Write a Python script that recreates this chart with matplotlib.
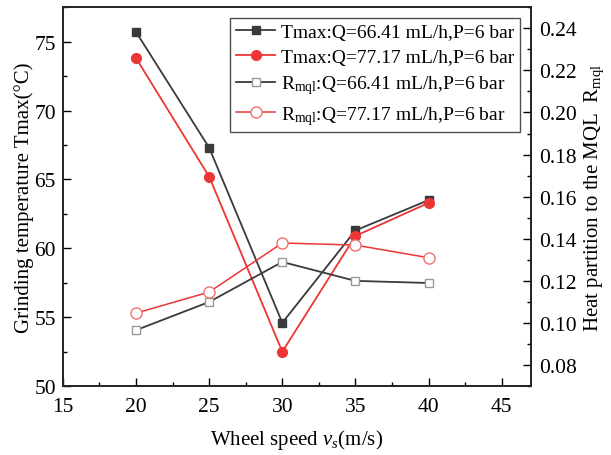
import matplotlib
matplotlib.use("Agg")
import matplotlib.pyplot as plt
from matplotlib.ticker import MultipleLocator

plt.rcParams["font.family"] = ["Liberation Serif", "DejaVu Serif"]
plt.rcParams["mathtext.fontset"] = "custom"
plt.rcParams["mathtext.rm"] = "Liberation Serif"
plt.rcParams["mathtext.it"] = "Liberation Serif:italic"

speed = [20, 25, 30, 35, 40]
tmax_q66 = [75.7, 67.3, 54.6, 61.3, 63.5]
tmax_q77 = [73.8, 65.2, 52.5, 60.9, 63.3]
rmql_q66 = [0.0966, 0.110, 0.129, 0.120, 0.119]
rmql_q77 = [0.1047, 0.1147, 0.138, 0.137, 0.131]

GREY = "#3a3a3a"
RED = "#ee3535"

fig = plt.figure(figsize=(6.11, 4.56), dpi=100)
ax = fig.add_axes([0.103, 0.151, 0.766, 0.831])
ax2 = ax.twinx()

l1, = ax.plot(speed, tmax_q66, color=GREY, lw=1.3, marker="s", ms=6,
              mfc=GREY, mec=GREY, label="Tmax:Q=66.41 mL/h,P=6 bar")
l2, = ax.plot(speed, tmax_q77, color=RED, lw=1.3, marker="o", ms=7,
              mfc=RED, mec=RED, label="Tmax:Q=77.17 mL/h,P=6 bar")
l3, = ax2.plot(speed, rmql_q66, color=GREY, lw=1.3, marker="s", ms=6,
               mfc="white", mec="#9a9a9a",
               label="R$_{\\mathrm{mql}}$:Q=66.41 mL/h,P=6 bar")
l4, = ax2.plot(speed, rmql_q77, color=RED, lw=1.1, marker="o", ms=8,
               mfc="white", mec="#f07070",
               label="R$_{\\mathrm{mql}}$:Q=77.17 mL/h,P=6 bar")

ax.set_xlim(15, 47)
ax.set_ylim(50, 77.5)
ax2.set_ylim(0.07, 0.25)

ax.xaxis.set_major_locator(MultipleLocator(5))
ax.xaxis.set_minor_locator(MultipleLocator(2.5))
ax.yaxis.set_major_locator(MultipleLocator(5))
ax.yaxis.set_minor_locator(MultipleLocator(2.5))
ax2.yaxis.set_minor_locator(MultipleLocator(0.01))
ax2.set_yticks([0.08, 0.10, 0.12, 0.14, 0.16, 0.18, 0.20, 0.22, 0.24])
ax2.set_yticklabels([f"{v:.2f}" for v in ax2.get_yticks()])

for a in (ax, ax2):
    a.tick_params(which="major", direction="in", length=6, width=1.0,
                  labelsize=15.5)
    a.tick_params(which="minor", direction="in", length=3, width=1.0)
    for s in a.spines.values():
        s.set_linewidth(1.2)
        s.set_color("#222222")
ax.tick_params(axis="x", pad=8)
ax.tick_params(axis="y", pad=5)
ax2.tick_params(axis="y", pad=6)

ax.set_xlabel("Wheel speed $v_s$(m/s)", fontsize=15, labelpad=8)
ax.set_ylabel("Grinding temperature Tmax(°C)", fontsize=15, labelpad=0)
ax2.set_ylabel("Heat partition to the MQL  R$_{\\mathrm{mql}}$",
               fontsize=15, labelpad=4)

leg = ax.legend(handles=[l1, l2, l3, l4], loc="upper right",
                bbox_to_anchor=(0.985, 0.983), fontsize=14,
                frameon=True, fancybox=False, edgecolor="#222222",
                borderpad=0.3, labelspacing=0.38, handlelength=2.0,
                handletextpad=0.3, borderaxespad=0.2)
leg.get_frame().set_linewidth(1.0)

fig.savefig("out.png", dpi=100)
